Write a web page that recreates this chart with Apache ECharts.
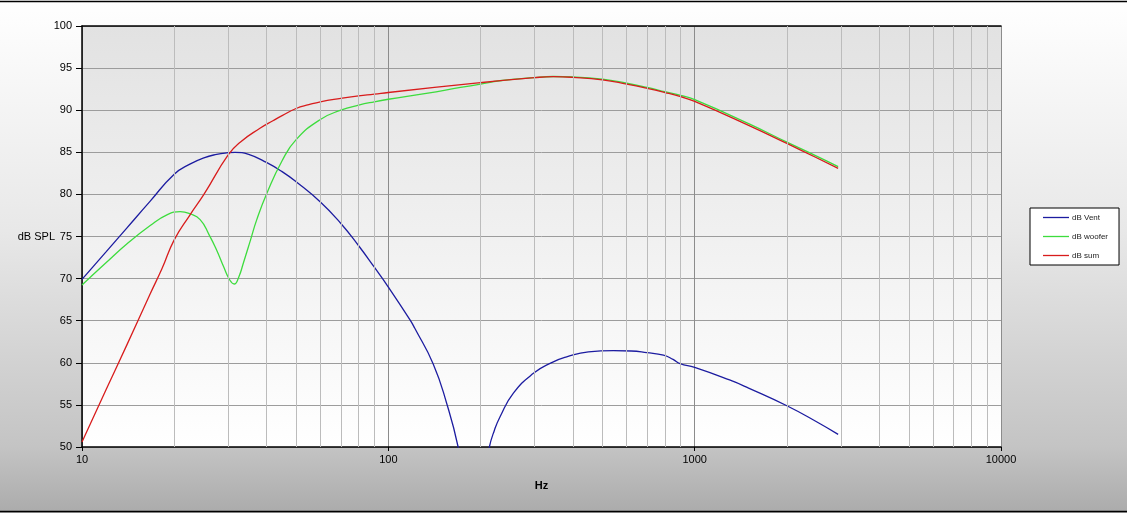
<!DOCTYPE html>
<html>
<head>
<meta charset="utf-8">
<script src="https://cdn.jsdelivr.net/npm/echarts@6/dist/echarts.min.js"></script>
<style>
html,body{margin:0;padding:0;}
#chart{width:1127px;height:513px;}
</style>
</head>
<body>
<div id="chart"></div>
<script>
// ---- data ----
var ventFreq = [10, 12, 14, 16.7, 20, 22.5, 25, 27.5, 30, 31.6, 35, 40, 45, 50, 60, 70, 80, 90, 100, 117.7, 122, 140, 155, 169, 172, null, 209, 213.7, 222, 231.6, 256, 297.6, 340, 382, 450, 543, 620, 698, 791, 850, 896, 1000, 1300, 1500, 2000, 2500, 2940];
var ventDb   = [69.9, 73.2, 76.0, 79.2, 82.4, 83.6, 84.35, 84.75, 84.95, 85.0, 84.75, 83.8, 82.7, 81.5, 79.1, 76.55, 73.9, 71.35, 69.0, 65.1, 64.1, 59.9, 55.2, 50.0, 47.5, null, 47.5, 50.0, 52.0, 53.6, 56.4, 58.75, 60.0, 60.7, 61.3, 61.44, 61.4, 61.2, 60.9, 60.4, 59.9, 59.46, 57.96, 57.0, 54.9, 53.0, 51.5];

var wooferFreq = [10, 12, 14, 16.7, 19, 20.9, 22.5, 24.3, 26, 27.5, 29, 30.4, 31.4, 32.5, 33.6, 35.5, 37.2, 40.1, 45, 50, 60, 70, 80, 90, 100, 133, 172, 200, 231, 300, 345, 400, 500, 600, 700, 800, 900, 1000, 1500, 2000, 2500, 2940];
var wooferDb   = [69.24, 71.9, 74.1, 76.3, 77.6, 77.95, 77.7, 77.0, 75.2, 73.4, 71.4, 69.8, 69.36, 70.2, 71.8, 74.6, 77.0, 80.1, 84.0, 86.5, 88.9, 90.0, 90.6, 91.0, 91.3, 92.0, 92.7, 93.1, 93.5, 93.88, 94.0, 93.95, 93.68, 93.2, 92.7, 92.2, 91.75, 91.25, 88.4, 86.2, 84.55, 83.3];

var sumFreq = [10, 12, 14, 16.7, 18.25, 20, 22.5, 25, 30, 33, 38.1, 42, 45, 50, 55, 60, 70, 80, 90, 100, 200, 300, 345, 400, 500, 600, 700, 800, 900, 1000, 1500, 2000, 2500, 2940];
var sumDb   = [50.6, 56.85, 62.1, 68.2, 71.2, 74.6, 77.55, 80.0, 84.68, 86.26, 87.85, 88.75, 89.35, 90.2, 90.65, 91.0, 91.4, 91.7, 91.9, 92.1, 93.27, 93.86, 93.98, 93.9, 93.6, 93.1, 92.6, 92.1, 91.6, 91.05, 88.2, 86.05, 84.35, 83.1];

var seriesNames = ['dB Vent', 'dB woofer', 'dB sum'];
var xTickLabels = ['10', '100', '1000', '10000'];
var yTickLabels = ['50', '55', '60', '65', '70', '75', '80', '85', '90', '95', '100'];
var minorFreqs = [20, 30, 40, 50, 60, 70, 80, 90, 200, 300, 400, 500, 600, 700, 800, 900, 2000, 3000, 4000, 5000, 6000, 7000, 8000, 9000];

function pairs(fs, vs) {
  var out = [];
  for (var i = 0; i < fs.length; i++) {
    if (fs[i] === null) { out.push([null, null]); continue; }
    out.push([fs[i], vs[i]]);
  }
  return out;
}

var chart = echarts.init(document.getElementById('chart'), null, {renderer: 'canvas'});
var font = 'Liberation Sans, Arial, sans-serif';

var option = {
  animation: false,
  backgroundColor: {
    type: 'linear', x: 0, y: 0, x2: 0, y2: 1,
    colorStops: [
      {offset: 0, color: '#ffffff'},
      {offset: 0.45, color: '#e8e8e8'},
      {offset: 0.87, color: '#c4c4c4'},
      {offset: 1, color: '#ababab'}
    ]
  },
  textStyle: {fontFamily: font},
  graphic: [
    {type: 'line', shape: {x1: 0, y1: 1.5, x2: 1127, y2: 1.5}, style: {stroke: '#000', lineWidth: 1.5}, silent: true},
    {type: 'line', shape: {x1: 0, y1: 511.5, x2: 1127, y2: 511.5}, style: {stroke: '#000', lineWidth: 1.5}, silent: true}
  ],
  grid: {
    left: 82, right: 126, top: 26, bottom: 66,
    show: true,
    borderWidth: 0,
    backgroundColor: {
      type: 'linear', x: 0, y: 0, x2: 0, y2: 1,
      colorStops: [
        {offset: 0, color: '#e2e2e2'},
        {offset: 1, color: '#ffffff'}
      ]
    }
  },
  legend: {
    orient: 'vertical',
    left: 1030, top: 208,
    data: seriesNames,
    icon: 'rect',
    backgroundColor: '#ffffff',
    borderColor: '#000',
    borderWidth: 1,
    padding: [5, 11, 5, 13],
    itemWidth: 26,
    itemHeight: 1.3,
    itemGap: 10,
    textStyle: {fontSize: 8, lineHeight: 9, color: '#222', fontFamily: font, padding: [0, 0, 0, -2]}
  },
  xAxis: [{
    type: 'log',
    logBase: 10,
    min: 10,
    max: 10000,
    name: 'Hz',
    nameLocation: 'middle',
    nameGap: 33,
    nameMoveOverlap: false,
    nameTextStyle: {fontSize: 11, fontWeight: 'bold', color: '#000', fontFamily: font},
    axisLine: {show: true, lineStyle: {color: '#000', width: 1.5}},
    axisTick: {show: true, length: 4, inside: false, lineStyle: {color: '#000'}},
    axisLabel: {
      fontSize: 11, color: '#000', margin: 7, fontFamily: font,
      formatter: function (v) {
        var k = Math.round(Math.log10(v)) - 1;
        return xTickLabels[k] !== undefined ? xTickLabels[k] : '';
      }
    },
    splitLine: {show: true, lineStyle: {color: '#8c8c8c', width: 1}},
    minorTick: {show: false},
    minorSplitLine: {show: false}
  }, {
    type: 'log',
    logBase: 10,
    min: 10,
    max: 10000,
    position: 'top',
    axisLine: {show: true, lineStyle: {color: '#000', width: 1.5}},
    axisTick: {show: false},
    axisLabel: {show: false},
    splitLine: {show: false}
  }],
  yAxis: {
    type: 'value',
    min: 50,
    max: 100,
    interval: 5,
    name: 'dB SPL',
    nameLocation: 'middle',
    nameRotate: 0,
    nameGap: 27,
    nameMoveOverlap: false,
    nameTextStyle: {fontSize: 11, color: '#000', fontFamily: font, align: 'right'},
    axisLine: {show: true, lineStyle: {color: '#000', width: 1.5}},
    axisTick: {show: true, length: 6, inside: false, lineStyle: {color: '#000'}},
    axisLabel: {
      fontSize: 11, color: '#000', margin: 10, fontFamily: font,
      formatter: function (v) {
        var i = Math.round((v - 50) / 5);
        return yTickLabels[i] !== undefined ? yTickLabels[i] : '';
      }
    },
    splitLine: {show: true, lineStyle: {color: '#9c9c9c', width: 1}}
  },
  series: [
    {
      name: 'gridMinor',
      type: 'line',
      data: [],
      silent: true,
      z: 1,
      markLine: {
        silent: true,
        symbol: 'none',
        label: {show: false},
        animation: false,
        lineStyle: {color: '#bcbcbc', width: 1, type: 'solid'},
        emphasis: {disabled: true},
        data: minorFreqs.map(function (f) { return {xAxis: f}; })
      }
    },
    {
      name: seriesNames[0],
      type: 'line',
      data: pairs(ventFreq, ventDb),
      showSymbol: false,
      symbol: 'none',
      smooth: 0.5,
      connectNulls: false,
      clip: true,
      z: 3,
      color: '#1c1ca0',
      lineStyle: {color: '#1c1ca0', width: 1.3}
    },
    {
      name: seriesNames[1],
      type: 'line',
      data: pairs(wooferFreq, wooferDb),
      showSymbol: false,
      symbol: 'none',
      smooth: 0.5,
      clip: true,
      z: 3,
      color: '#3ddc3d',
      lineStyle: {color: '#3ddc3d', width: 1.3}
    },
    {
      name: seriesNames[2],
      type: 'line',
      data: pairs(sumFreq, sumDb),
      showSymbol: false,
      symbol: 'none',
      smooth: 0.5,
      clip: true,
      z: 4,
      color: '#d81c1c',
      lineStyle: {color: '#d81c1c', width: 1.3}
    }
  ]
};
chart.setOption(option);
</script>
</body>
</html>
